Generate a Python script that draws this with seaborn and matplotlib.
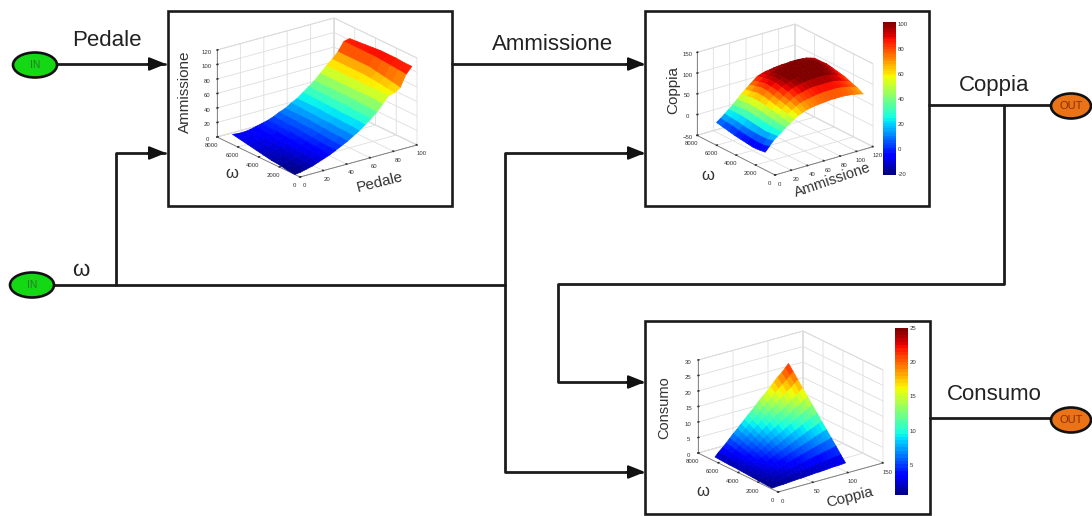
import numpy as np
import matplotlib
matplotlib.use("Agg")
import matplotlib.pyplot as plt
from matplotlib.patches import Ellipse, Rectangle
from matplotlib.colors import Normalize
from mpl_toolkits.mplot3d import proj3d
import seaborn as sns

sns.set_theme(style="white")
plt.rcParams["font.family"] = ["Liberation Sans", "DejaVu Sans"]

# ---- data ----
pedale = [0, 5, 10, 15, 20, 25, 30, 35, 40, 45, 50, 55, 60, 65, 70, 75, 80, 85, 90, 95, 100]
omega_amm = [500, 1250, 2000, 2750, 3500, 4250, 5000, 5750, 6500]
ammissione = [
    [0, 1, 3, 5, 8, 11, 14, 18, 22, 26, 31, 36, 42, 48, 55, 64, 73, 75, 80, 96, 105],
    [1, 2, 4, 6, 9, 12, 15, 18, 22, 27, 32, 37, 43, 49, 56, 65, 73, 76, 82, 97, 105],
    [3, 3, 5, 7, 10, 13, 16, 19, 23, 27, 32, 37, 43, 49, 56, 65, 73, 78, 84, 98, 106],
    [4, 5, 6, 8, 11, 14, 17, 20, 24, 28, 33, 38, 43, 50, 57, 65, 73, 79, 86, 99, 106],
    [6, 7, 8, 10, 12, 15, 18, 21, 25, 29, 33, 38, 44, 50, 57, 65, 73, 80, 88, 100, 106],
    [8, 8, 9, 11, 13, 16, 19, 22, 25, 30, 34, 39, 44, 50, 57, 65, 73, 80, 88, 100, 105],
    [10, 10, 11, 12, 14, 17, 19, 22, 26, 30, 34, 39, 45, 51, 57, 65, 73, 80, 88, 100, 104],
    [12, 12, 12, 13, 15, 17, 20, 23, 26, 30, 35, 39, 45, 51, 57, 65, 73, 80, 88, 100, 103],
    [14, 13, 13, 14, 16, 18, 20, 23, 27, 30, 35, 39, 45, 51, 57, 65, 73, 80, 88, 100, 102],
]
amm_in = [0, 5, 10, 15, 20, 25, 30, 35, 40, 45, 50, 55, 60, 65, 70, 75, 80, 85, 90, 95, 100, 105, 110, 115, 120]
omega_cop = [1000, 1625, 2250, 2875, 3500, 4125, 4750, 5375, 6000]
coppia = [
    [-7, 4, 15, 23, 30, 38, 45, 52, 58, 62, 66, 68, 70, 71, 72, 73, 74, 74, 74, 74, 73, 72, 70, 68, 65],
    [-9, 0, 11, 21, 30, 39, 48, 56, 63, 69, 74, 77, 79, 81, 83, 84, 85, 85, 85, 85, 84, 82, 80, 77, 73],
    [-10, 0, 10, 20, 31, 41, 52, 60, 68, 75, 81, 85, 87, 90, 92, 93, 93, 93, 93, 93, 92, 90, 87, 83, 78],
    [-8, 1, 11, 22, 33, 44, 55, 63, 72, 79, 87, 91, 95, 97, 99, 100, 101, 101, 101, 101, 99, 97, 94, 89, 84],
    [-6, 3, 12, 24, 36, 47, 58, 67, 76, 84, 91, 95, 99, 102, 104, 105, 105, 105, 105, 105, 103, 101, 97, 92, 87],
    [-4, 5, 14, 26, 38, 49, 60, 70, 80, 87, 94, 98, 102, 104, 106, 107, 108, 108, 108, 107, 106, 103, 100, 95, 90],
    [-1, 8, 17, 28, 39, 50, 61, 71, 81, 88, 94, 98, 102, 104, 106, 107, 108, 108, 108, 107, 106, 104, 102, 98, 93],
    [2, 10, 18, 28, 38, 48, 58, 67, 77, 84, 91, 94, 98, 100, 102, 103, 104, 104, 104, 104, 103, 102, 100, 97, 92],
    [5, 12, 20, 28, 36, 46, 56, 64, 72, 80, 88, 91, 94, 95, 97, 98, 99, 99, 100, 100, 100, 99, 98, 95, 92],
]
cop_in = [0, 5, 11, 16, 21, 26, 32, 37, 42, 47, 53, 58, 63, 68, 74, 79, 84, 89, 95, 100, 105]
omega_con = [600, 1075, 1550, 2025, 2500, 2975, 3450, 3925, 4400, 4875, 5350, 5825, 6300]
consumo = [
    [.3, .4, .5, .5, .6, .7, .8, .9, .9, 1.0, 1.1, 1.2, 1.3, 1.3, 1.4, 1.5, 1.6, 1.7, 1.7, 1.8, 1.9],
    [.4, .6, .7, .9, 1.1, 1.3, 1.4, 1.6, 1.8, 1.9, 2.1, 2.3, 2.4, 2.6, 2.8, 3.0, 3.1, 3.3, 3.5, 3.6, 3.8],
    [.5, .8, 1.0, 1.3, 1.6, 1.8, 2.1, 2.3, 2.6, 2.9, 3.1, 3.4, 3.7, 3.9, 4.2, 4.4, 4.7, 5.0, 5.2, 5.5, 5.8],
    [.6, 1.0, 1.3, 1.7, 2.0, 2.4, 2.7, 3.1, 3.4, 3.8, 4.2, 4.5, 4.9, 5.2, 5.6, 5.9, 6.3, 6.6, 7.0, 7.3, 7.7],
    [.7, 1.2, 1.6, 2.0, 2.5, 2.9, 3.4, 3.8, 4.3, 4.7, 5.2, 5.6, 6.0, 6.5, 6.9, 7.4, 7.8, 8.3, 8.7, 9.2, 9.6],
    [.8, 1.3, 1.8, 2.4, 2.9, 3.4, 4.0, 4.5, 5.1, 5.6, 6.1, 6.7, 7.2, 7.7, 8.3, 8.8, 9.4, 9.9, 10.4, 11.0, 11.5],
    [.9, 1.5, 2.1, 2.7, 3.4, 4.0, 4.6, 5.3, 5.9, 6.5, 7.2, 7.8, 8.4, 9.0, 9.7, 10.3, 10.9, 11.6, 12.2, 12.8, 13.5],
    [1.0, 1.7, 2.4, 3.1, 3.8, 4.6, 5.3, 6.0, 6.7, 7.5, 8.2, 8.9, 9.6, 10.3, 11.1, 11.8, 12.5, 13.2, 14.0, 14.7, 15.4],
    [1.1, 1.9, 2.7, 3.5, 4.3, 5.1, 5.9, 6.7, 7.6, 8.4, 9.2, 10.0, 10.8, 11.6, 12.4, 13.2, 14.1, 14.9, 15.7, 16.5, 17.3],
    [1.1, 2.0, 2.9, 3.8, 4.7, 5.6, 6.5, 7.4, 8.3, 9.3, 10.2, 11.1, 12.0, 12.9, 13.8, 14.7, 15.6, 16.5, 17.4, 18.3, 19.2],
    [1.2, 2.2, 3.2, 4.2, 5.2, 6.2, 7.2, 8.2, 9.2, 10.2, 11.2, 12.2, 13.2, 14.2, 15.2, 16.2, 17.2, 18.2, 19.2, 20.2, 21.2],
    [1.3, 2.4, 3.5, 4.6, 5.7, 6.8, 7.8, 8.9, 10.0, 11.1, 12.2, 13.3, 14.4, 15.5, 16.6, 17.7, 18.7, 19.8, 20.9, 22.0, 23.1],
    [1.4, 2.6, 3.8, 4.9, 6.1, 7.3, 8.5, 9.7, 10.8, 12.0, 13.2, 14.4, 15.6, 16.7, 17.9, 19.1, 20.3, 21.5, 22.6, 23.8, 25.0],
]

W, H = 1092, 516
fig = plt.figure(figsize=(W / 100, H / 100), dpi=100, facecolor="white")
jet = plt.get_cmap("jet")


def surface(X, Y, Z, xlim, ylim, zlim, xt, yt, zt, clim, front, xvec, yvec, zvec, azim=-127):
    sq = 300
    ax = fig.add_axes([0.2, 0.2, sq / W, sq / H], projection="3d", proj_type="ortho")
    ax.patch.set_alpha(0)
    el = np.degrees(np.arcsin(np.sqrt(abs(xvec[1] * yvec[1]) / abs(xvec[0] * yvec[0]))))
    ax.view_init(elev=el, azim=azim)
    s, c = abs(np.sin(np.radians(azim))), abs(np.cos(np.radians(azim)))
    ax.set_box_aspect((abs(xvec[0]) / s, abs(yvec[0]) / c, abs(zvec) / np.cos(np.radians(el))))
    XX, YY = np.meshgrid(X, Y)
    ZZ = np.array(Z, float)
    # every facet takes the colour of its mean height; edges share it, so no seams show
    mean = (ZZ[:-1, :-1] + ZZ[1:, :-1] + ZZ[:-1, 1:] + ZZ[1:, 1:]) / 4
    ax.plot_surface(XX, YY, ZZ, facecolors=jet(Normalize(*clim)(mean)),
                    rstride=1, cstride=1, shade=False, linewidth=0.5, antialiased=True)
    ax.set_xlim(*xlim, view_margin=0)
    ax.set_ylim(*ylim, view_margin=0)
    ax.set_zlim(*zlim, view_margin=0)
    ax.set_xticks(xt)
    ax.set_yticks(yt)
    ax.set_zticks(zt)
    for a in (ax.xaxis, ax.yaxis, ax.zaxis):
        a.set_pane_color((1, 1, 1, 1))
        a.pane.set_edgecolor("#cfcfcf")
        a.pane.set_linewidth(0.6)
        a.line.set_color("#777777")
        a.line.set_linewidth(0.6)
        a._axinfo["grid"].update(color="#dedede", linewidth=0.6)
        a._axinfo["tick"].update(inward_factor=0.0, outward_factor=0.1)
        a._axinfo["tick"]["color"] = "#777777"
        a.set_tick_params(labelsize=4.3, pad=-4, colors="#333333")
    # scale and shift so that the floor corners sit on the drawn box
    for _ in range(3):
        fig.canvas.draw()
        M = ax.get_proj()

        def px(x, y, z):
            u, v, _w = proj3d.proj_transform(x, y, z, M)
            return ax.transData.transform((u, v))
        p0 = px(xlim[0], ylim[0], zlim[0])
        p1 = px(xlim[1], ylim[0], zlim[0])
        sq *= abs(xvec[0]) / abs(p1[0] - p0[0])
        box = ax.get_position(original=True)
        ax.set_position([box.x0, box.y0, sq / W, sq / H])
        fig.canvas.draw()
        M = ax.get_proj()
        p0 = px(xlim[0], ylim[0], zlim[0])
        box = ax.get_position(original=True)
        ax.set_position([box.x0 + (front[0] - p0[0]) / W,
                         box.y0 + ((H - front[1]) - p0[1]) / H, sq / W, sq / H])
    return ax


surface(pedale, omega_amm, ammissione, (0, 100), (0, 8000), (0, 120),
        [0, 20, 40, 60, 80, 100], [0, 2000, 4000, 6000, 8000], [0, 20, 40, 60, 80, 100, 120],
        (0, 115), (300, 177), (117, -32), (-83, -40), 87)
surface(amm_in, omega_cop, coppia, (0, 120), (0, 8000), (-50, 150),
        [0, 20, 40, 60, 80, 100, 120], [0, 2000, 4000, 6000, 8000], [-50, 0, 50, 100, 150],
        (-20, 102), (775, 175), (98, -28), (-78, -40), 83)
surface(cop_in, omega_con, consumo, (0, 150), (0, 8000), (0, 30),
        [0, 50, 100, 150], [0, 2000, 4000, 6000, 8000], [0, 5, 10, 15, 20, 25, 30],
        (0, 28), (778, 492), (105, -29), (-80, -39), 93)

# ---- colour bars ----
bar_cop = np.arange(102, -21, -2).reshape(-1, 1)
bar_con = np.arange(25, 0.5, -0.5).reshape(-1, 1)
cax1 = fig.add_axes([883 / W, 1 - 175 / H, 13 / W, 153 / H])
sns.heatmap(bar_cop, cmap="jet", vmin=-20, vmax=102, cbar=False, ax=cax1, xticklabels=False, yticklabels=False)
cax2 = fig.add_axes([895 / W, 1 - 495 / H, 13 / W, 167 / H])
sns.heatmap(bar_con, cmap="jet", vmin=0.7, vmax=25, cbar=False, ax=cax2, xticklabels=False, yticklabels=False)
for cax, vals, lo, hi in ((cax1, [-20, 0, 20, 40, 60, 80, 100], -20, 102), (cax2, [5, 10, 15, 20, 25], 0.7, 25)):
    n = cax.get_ylim()[0]
    for v in vals:
        cax.text(1.12, n * (hi - v) / (hi - lo), str(v), fontsize=4.3, va="center", ha="left", color="#333333")

# ---- diagram overlay ----
ov = fig.add_axes([0, 0, 1, 1], facecolor="none")
ov.set_xlim(0, W)
ov.set_ylim(H, 0)
ov.axis("off")

wire_xs = [[35, 165], [32, 505], [116, 116, 165], [505, 505, 642], [505, 505, 642],
           [452, 642], [929, 1052], [1004, 1004, 558, 558, 642], [930, 1052]]
wire_ys = [[64, 64], [285, 285], [285, 153, 153], [285, 153, 153], [285, 472, 472],
           [64, 64], [105, 105], [105, 284, 284, 382, 382], [418, 418]]
for xs, ys in zip(wire_xs, wire_ys):
    sns.lineplot(x=xs, y=ys, sort=False, estimator=None, color="#1c1c1c", linewidth=2.0, ax=ov)

arrow_x = [165, 165, 644, 644, 644, 644]
arrow_y = [64, 153, 64, 153, 382, 472]
for ax_, ay_ in zip(arrow_x, arrow_y):
    ov.annotate("", xy=(ax_ + 1, ay_), xytext=(ax_ - 17, ay_),
                arrowprops=dict(arrowstyle="-|>,head_length=0.85,head_width=0.34", color="#111111", lw=1.5,
                                shrinkA=0, shrinkB=0))

boxes = [(168, 11, 284, 195), (645, 11, 284, 195), (645, 321, 285, 193)]
for x, y, w, h in boxes:
    ov.add_patch(Rectangle((x, y), w, h, fill=False, ec="#1a1a1a", lw=1.9))

terminals = [(35, 65, 44, 25, "IN", 7.5, "#14d814", "#2a7a2a"), (32, 285, 44, 25, "IN", 7.5, "#14d814", "#2a7a2a"),
             (1071, 106, 40, 25, "OUT", 8, "#ea7318", "#8a3008"), (1071, 420, 40, 25, "OUT", 8, "#ea7318", "#8a3008")]
for x, y, w, h, t, fs, c, tc in terminals:
    ov.add_patch(Ellipse((x, y), w, h, fc=c, ec="#111111", lw=1.9, zorder=5))
    ov.text(x, y, t, fontsize=fs, ha="center", va="center", color=tc, zorder=6)

labels = [("Pedale", 107, 41, 16), ("Ammissione", 553, 44, 16), ("Coppia", 994, 85, 16),
          ("Consumo", 994, 395, 16), ("ω", 81, 270, 16)]
for t, x, y, fs in labels:
    ov.text(x, y, t, fontsize=fs, ha="center", va="center", color="#222222")

inner = [("Ammissione", 185, 92, 90, 11), ("ω", 232, 173, 0, 12), ("Pedale", 380, 182, 14, 11),
         ("Coppia", 673, 90, 90, 11), ("ω", 708, 176, 0, 12), ("Ammissione", 833, 180, 19, 10.5),
         ("Consumo", 664, 408, 90, 10.5), ("ω", 703, 492, 0, 12), ("Coppia", 850, 497, 14, 11)]
for t, x, y, r, fs in inner:
    ov.text(x, y, t, fontsize=fs, rotation=r, ha="center", va="center", color="#333333")

fig.savefig("out.png", dpi=100)
